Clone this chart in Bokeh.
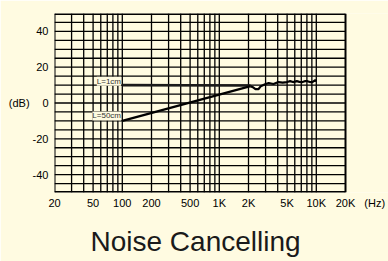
from bokeh.plotting import figure
from bokeh.models import FixedTicker, Label, Range1d, Title
from bokeh.embed import file_html
from bokeh.resources import INLINE

# ---- data ----
freq_1cm = [100, 2100]
db_1cm = [10, 9.8]

freq_50cm = [100, 2100]
db_50cm = [-10, 9.4]

freq_hi = [2100, 2250, 2360, 2540, 2680, 3000, 3230, 3620, 4070, 4500, 5000, 5370,
           5750, 6300, 6700, 7200, 7600, 8100, 8600, 9100, 9750, 10000]
db_hi = [9.4, 8.6, 7.8, 7.8, 9.4, 10.6, 11.1, 10.6, 11.7, 11.4, 11.7, 12.2,
         11.7, 12.2, 11.8, 11.7, 12.2, 12.2, 11.7, 11.7, 12.8, 12.2]

x_ticks = [20, 50, 100, 200, 500, 1000, 2000, 5000, 10000, 20000, 40000]
x_tick_labels = ["20", "50", "100", "200", "500", "1K", "2K", "5K", "10K", "20K", "(Hz)"]
x_grid = [30, 40, 50, 60, 70, 80, 90, 100,
          200, 300, 400, 500, 600, 700, 800, 900, 1000,
          2000, 3000, 4000, 5000, 6000, 7000, 8000, 9000, 10000]
x_edges = [20, 20000]
y_ticks = [-40, -20, 0, 20, 40]
y_tick_labels = ["-40", "-20", "0", "20", "40"]
y_grid = [-45, -40, -35, -30, -25, -20, -15, -10, -5, 0, 5, 10, 15, 20, 25, 30, 35, 40, 45]
y_edges = [-50, 50]

BG = "#FFFBE1"
FONT = "Liberation Sans"

PX_PER_DECADE = 97
FRAME_W = 334
x_max = x_edges[0] * 10 ** (FRAME_W / PX_PER_DECADE)

p = figure(x_axis_type="log", output_backend="svg", toolbar_location=None,
           frame_width=FRAME_W, frame_height=179,
           min_border_left=54, min_border_right=0, min_border_top=13, min_border_bottom=10,
           x_range=Range1d(x_edges[0], x_max), y_range=Range1d(y_edges[0], y_edges[1]))
p.background_fill_color = BG
p.border_fill_color = BG
p.outline_line_color = None
p.grid.visible = False

for ax in (p.xaxis[0], p.yaxis[0]):
    ax.axis_line_color = None
    ax.major_tick_line_color = None
    ax.minor_tick_line_color = None
    ax.major_tick_out = 0
    ax.major_tick_in = 0
    ax.minor_tick_out = 0
    ax.minor_tick_in = 0
    ax.major_label_text_font = FONT
    ax.major_label_text_font_size = "11px"
    ax.major_label_text_color = "black"
p.xaxis.major_label_standoff = 4
p.yaxis.major_label_standoff = 6

p.xaxis.ticker = FixedTicker(ticks=x_ticks)
p.xaxis.major_label_overrides = {t: l for t, l in zip(x_ticks, x_tick_labels)}
p.yaxis.ticker = FixedTicker(ticks=y_ticks)
p.yaxis.major_label_overrides = {t: l for t, l in zip(y_ticks, y_tick_labels)}

p.yaxis.axis_label = "(dB)"
p.yaxis.axis_label_orientation = "horizontal"
p.yaxis.axis_label_standoff = 0
p.yaxis.axis_label_text_font = FONT
p.yaxis.axis_label_text_font_size = "11px"
p.yaxis.axis_label_text_font_style = "normal"
p.yaxis.axis_label_text_color = "black"

# grid lines (only over the 20 Hz - 20 kHz chart area)
p.segment(x0=x_grid, y0=[y_edges[0]] * len(x_grid), x1=x_grid, y1=[y_edges[1]] * len(x_grid),
          line_color="black", line_width=1.3)
p.segment(x0=[x_edges[0]] * len(y_grid), y0=y_grid, x1=[x_edges[1]] * len(y_grid), y1=y_grid,
          line_color="black", line_width=1.3)
# chart border
p.segment(x0=x_edges, y0=[y_edges[0]] * 2, x1=x_edges, y1=[y_edges[1]] * 2,
          line_color="black", line_width=2)
p.segment(x0=[x_edges[0]] * 2, y0=y_edges, x1=[x_edges[1]] * 2, y1=y_edges,
          line_color="black", line_width=3)

p.line(freq_1cm, db_1cm, line_color="#1a1a1a", line_width=2.6)
p.line(freq_50cm, db_50cm, line_color="black", line_width=2.3)
p.line(freq_hi, db_hi, line_color="black", line_width=2.2)

lbl_style = dict(text_font=FONT, text_font_size="8px", text_color="#333333",
                 background_fill_color=BG, text_align="right", text_baseline="middle")
p.add_layout(Label(x=97, y=12.2, text="L=1cm", **lbl_style))
p.add_layout(Label(x=97, y=-7.2, text="L=50cm", **lbl_style))

p.add_layout(Title(text="Noise Cancelling", align="left", offset=36, text_font_size="28px",
                   text_font=FONT, text_font_style="normal", text_color="#1a1a1a",
                   standoff=24), "below")

open("out.html", "w").write(file_html(p, INLINE))
